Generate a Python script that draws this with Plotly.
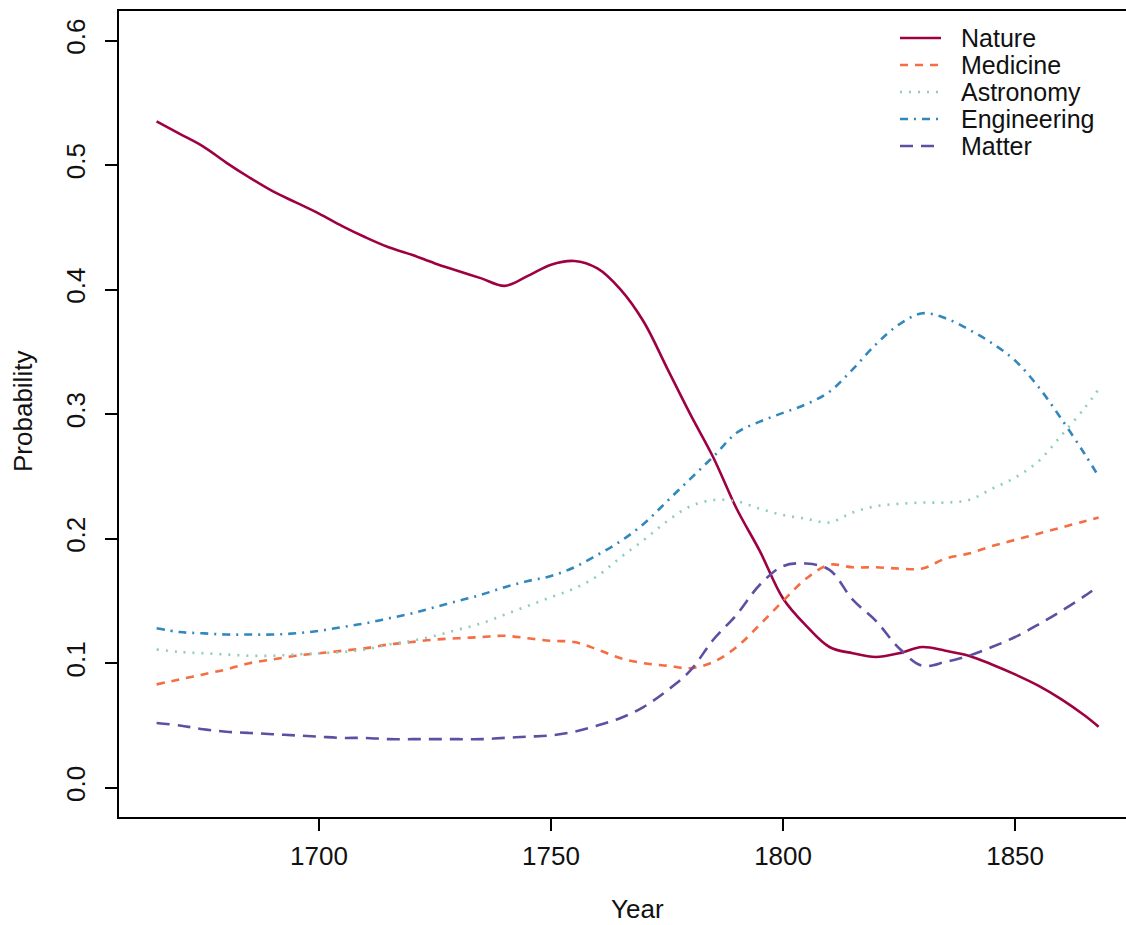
import plotly.graph_objects as go

years = [1665, 1670, 1675, 1680, 1685, 1690, 1695, 1700, 1705, 1710, 1715, 1720,
         1725, 1730, 1735, 1740, 1745, 1750, 1755, 1760, 1765, 1770, 1775, 1780,
         1785, 1790, 1795, 1800, 1805, 1810, 1815, 1820, 1825, 1830, 1835, 1840,
         1845, 1850, 1855, 1860, 1865, 1868]

nature = [0.535, 0.525, 0.515, 0.502, 0.490, 0.479, 0.470, 0.461, 0.451, 0.442, 0.434, 0.428,
          0.421, 0.415, 0.409, 0.403, 0.411, 0.420, 0.423, 0.417, 0.400, 0.374, 0.337, 0.300,
          0.265, 0.224, 0.190, 0.152, 0.130, 0.113, 0.108, 0.105, 0.108, 0.113, 0.110, 0.106,
          0.099, 0.091, 0.082, 0.071, 0.058, 0.049]

medicine = [0.083, 0.087, 0.091, 0.095, 0.100, 0.103, 0.106, 0.108, 0.110, 0.112, 0.115, 0.117,
            0.119, 0.120, 0.121, 0.122, 0.120, 0.118, 0.117, 0.111, 0.104, 0.100, 0.098, 0.096,
            0.101, 0.113, 0.131, 0.150, 0.168, 0.179, 0.177, 0.177, 0.176, 0.176, 0.184, 0.188,
            0.194, 0.199, 0.204, 0.209, 0.214, 0.217]

astronomy = [0.111, 0.109, 0.108, 0.107, 0.106, 0.106, 0.107, 0.108, 0.109, 0.111, 0.115, 0.118,
             0.122, 0.127, 0.132, 0.139, 0.146, 0.153, 0.160, 0.170, 0.185, 0.199, 0.214, 0.226,
             0.231, 0.230, 0.224, 0.219, 0.216, 0.213, 0.221, 0.226, 0.228, 0.229, 0.229, 0.231,
             0.240, 0.249, 0.262, 0.283, 0.305, 0.320]

engineering = [0.128, 0.125, 0.124, 0.123, 0.123, 0.123, 0.124, 0.126, 0.129, 0.132, 0.136, 0.140,
               0.145, 0.150, 0.155, 0.161, 0.166, 0.170, 0.177, 0.187, 0.198, 0.212, 0.230, 0.248,
               0.266, 0.285, 0.294, 0.301, 0.308, 0.318, 0.336, 0.356, 0.372, 0.381, 0.377, 0.368,
               0.357, 0.343, 0.322, 0.296, 0.268, 0.250]

matter = [0.052, 0.050, 0.047, 0.045, 0.044, 0.043, 0.042, 0.041, 0.040, 0.040, 0.039, 0.039,
          0.039, 0.039, 0.039, 0.040, 0.041, 0.042, 0.045, 0.050, 0.056, 0.065, 0.078, 0.094,
          0.119, 0.139, 0.163, 0.178, 0.180, 0.175, 0.151, 0.134, 0.112, 0.098, 0.101, 0.106,
          0.113, 0.121, 0.131, 0.142, 0.154, 0.162]

names = ["Nature", "Medicine", "Astronomy", "Engineering", "Matter"]
values = [nature, medicine, astronomy, engineering, matter]
colors = ["#9E0142", "#F46D43", "#8FCBBE", "#3288BD", "#5E4FA2"]
dashes = ["solid", "8px,7px", "2px,7px", "8px,6px,2px,6px", "13px,8px"]

x_ticks = [1700, 1750, 1800, 1850]
y_ticks = [0.0, 0.1, 0.2, 0.3, 0.4, 0.5, 0.6]

# plot area in pixels (for placing the hand-made legend / titles)
W, H = 1126, 925
L, R, T, B = 119, 0, 11, 108
PW, PH = W - L - R, H - T - B

def px(x):
    return (x - L) / PW

def py(y):
    return (H - B - y) / PH

fig = go.Figure()
for name, vals, color, dash in zip(names, values, colors, dashes):
    fig.add_trace(go.Scatter(x=years, y=vals, mode="lines", name=name,
                             line=dict(color=color, width=2.6, dash=dash, shape="spline"),
                             showlegend=False))

font = dict(family="Liberation Sans, Arial, sans-serif", size=26, color="#111111")
leg_font = dict(family="Liberation Sans, Arial, sans-serif", size=25, color="#111111")

# legend (drawn as shapes + text to get R-like compact spacing)
shapes = []
annotations = []
for i, (name, color, dash) in enumerate(zip(names, colors, dashes)):
    yc = 38 + 27 * i
    shapes.append(dict(type="line", xref="paper", yref="paper",
                       x0=px(900), x1=px(941), y0=py(yc), y1=py(yc),
                       line=dict(color=color, width=2.6, dash=dash)))
    annotations.append(dict(text=name, xref="paper", yref="paper",
                            x=px(960), y=py(yc), xanchor="left", yanchor="middle",
                            showarrow=False, font=leg_font, borderpad=0))

annotations.append(dict(text="Year", xref="paper", yref="paper", x=px(637), y=py(909),
                        xanchor="center", yanchor="middle", showarrow=False, font=font))
annotations.append(dict(text="Probability", xref="paper", yref="paper", x=px(23), y=py(412),
                        xanchor="center", yanchor="middle", textangle=-90,
                        showarrow=False, font=font))

fig.update_layout(
    width=W, height=H,
    paper_bgcolor="white", plot_bgcolor="white",
    margin=dict(l=L, r=R, t=T, b=B, autoexpand=False),
    font=font,
    showlegend=False,
    shapes=shapes,
    annotations=annotations,
    xaxis=dict(range=[1656.9, 1873.9], tickvals=x_ticks, ticks="outside",
               ticklen=12, tickwidth=1.5, tickcolor="black",
               showline=True, linecolor="black", linewidth=2, mirror=True,
               showgrid=False, zeroline=False, automargin=False,
               ticklabelstandoff=3),
    yaxis=dict(range=[-0.0235, 0.6237], tickvals=y_ticks,
               ticktext=[f"{v:.1f}" for v in y_ticks], tickangle=-90,
               ticks="outside", ticklen=12, tickwidth=1.5, tickcolor="black",
               showline=True, linecolor="black", linewidth=2, mirror=False,
               showgrid=False, zeroline=False, automargin=False,
               ticklabelstandoff=10),
)

fig.write_html("out.html", config={"displayModeBar": False},
               post_script="document.body.style.margin='0px';document.body.style.overflow='hidden';")
